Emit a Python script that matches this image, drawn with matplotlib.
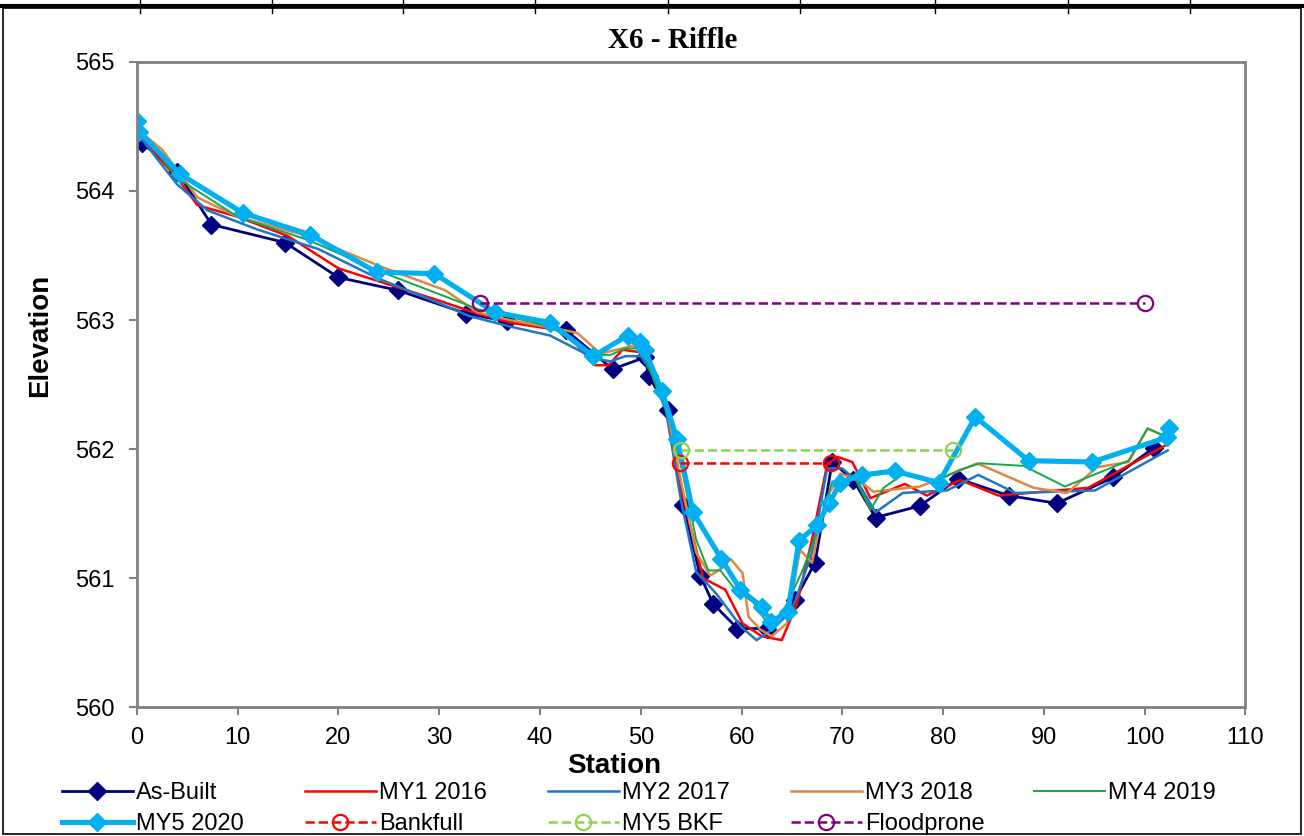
import matplotlib.pyplot as plt
from matplotlib.lines import Line2D

plt.rcParams['font.family'] = ['Liberation Sans', 'DejaVu Sans']

# Data (station, elevation)
asbuilt_x = [0.5, 4.0, 7.4, 14.7, 20.0, 25.9, 32.7, 36.7, 42.6, 47.2, 50.4, 50.8,
             52.7, 54.2, 55.9, 57.2, 59.6, 62.5, 65.3, 67.3, 69.0, 71.1, 73.3,
             77.7, 81.5, 86.5, 91.3, 96.9, 100.9]
asbuilt_y = [564.37, 564.15, 563.74, 563.60, 563.33, 563.23, 563.05, 562.99,
             562.92, 562.62, 562.71, 562.57, 562.30, 561.57, 561.02, 560.80,
             560.61, 560.61, 560.83, 561.12, 561.90, 561.76, 561.47, 561.56,
             561.77, 561.64, 561.58, 561.78, 562.01]

my1_x = [0.3, 4.0, 6.0, 10.0, 15.0, 20.0, 26.0, 30.0, 33.0, 37.0, 42.0, 43.5,
         45.5, 46.8, 48.2, 50.0, 51.0, 52.5, 54.0, 56.2, 58.4, 60.1, 62.0,
         64.0, 65.5, 67.0, 68.5, 69.5, 71.0, 72.8, 76.2, 78.4, 81.7, 85.5,
         94.4, 102.1]
my1_y = [564.42, 564.10, 563.89, 563.80, 563.65, 563.40, 563.25, 563.15,
         563.07, 562.98, 562.92, 562.82, 562.65, 562.65, 562.77, 562.75,
         562.60, 562.35, 561.70, 561.00, 560.91, 560.65, 560.55, 560.52,
         560.80, 561.30, 561.88, 561.94, 561.90, 561.62, 561.73, 561.64,
         561.76, 561.64, 561.70, 562.03]

my2_x = [0.5, 4.0, 7.0, 12.0, 18.0, 24.0, 30.0, 33.0, 37.0, 41.0, 45.5, 47.0,
         48.5, 50.0, 51.0, 52.5, 54.0, 55.5, 57.5, 60.0, 61.5, 63.0, 65.0,
         67.0, 68.5, 70.0, 71.5, 73.3, 76.0, 80.4, 83.5, 87.2, 95.1, 102.3]
my2_y = [564.40, 564.05, 563.85, 563.70, 563.55, 563.32, 563.13, 563.03,
         562.95, 562.88, 562.70, 562.68, 562.72, 562.72, 562.60, 562.30,
         561.60, 561.05, 560.88, 560.62, 560.52, 560.60, 560.75, 561.20,
         561.85, 561.85, 561.75, 561.51, 561.66, 561.68, 561.80, 561.66,
         561.68, 561.99]

my3_x = [0.5, 2.5, 6.0, 10.0, 17.0, 20.0, 24.0, 30.6, 33.8, 37.0, 42.5, 43.7,
         46.0, 49.2, 50.5, 52.5, 54.0, 55.5, 56.9, 58.1, 58.9, 60.1, 60.7,
         61.9, 63.0, 64.5, 65.8, 67.0, 68.3, 69.8, 71.6, 73.1, 77.7, 83.4,
         89.0, 92.3, 95.3, 98.4, 100.3, 102.3]
my3_y = [564.45, 564.32, 563.95, 563.80, 563.65, 563.55, 563.42, 563.23,
         563.06, 563.00, 562.92, 562.90, 562.74, 562.80, 562.75, 562.35,
         561.75, 561.20, 561.02, 561.08, 561.15, 561.04, 560.70, 560.60,
         560.55, 560.65, 561.22, 561.12, 561.60, 561.81, 561.76, 561.67,
         561.71, 561.89, 561.70, 561.66, 561.86, 561.90, 562.16, 562.09]

my4_x = [0.5, 4.0, 10.0, 17.0, 24.0, 30.0, 34.0, 41.0, 45.5, 47.0, 48.5, 50.0,
         51.0, 53.0, 54.2, 55.5, 56.7, 57.9, 59.2, 61.2, 63.0, 64.5, 66.0,
         67.5, 69.0, 69.8, 71.1, 72.8, 74.1, 76.1, 79.0, 81.7, 83.7, 88.0,
         92.1, 98.4, 100.3, 102.3]
my4_y = [564.45, 564.10, 563.80, 563.62, 563.38, 563.20, 563.08, 562.95,
         562.73, 562.73, 562.78, 562.78, 562.60, 562.20, 561.80, 561.30,
         561.06, 561.06, 560.93, 560.81, 560.60, 560.80, 561.05, 561.35,
         561.75, 561.74, 561.80, 561.53, 561.70, 561.81, 561.74, 561.84,
         561.89, 561.87, 561.71, 561.91, 562.16, 562.09]

my5_x = [0.0, 0.2, 4.3, 10.5, 17.2, 23.8, 29.5, 35.5, 41.0, 45.3, 48.7, 49.9,
         50.4, 52.1, 53.6, 55.2, 58.0, 59.9, 62.0, 62.9, 64.6, 65.7, 67.5,
         68.7, 69.8, 72.0, 75.2, 79.6, 83.2, 88.5, 94.8, 102.2, 102.4]
my5_y = [564.54, 564.46, 564.13, 563.83, 563.66, 563.37, 563.36, 563.06,
         562.98, 562.72, 562.88, 562.83, 562.77, 562.45, 562.08, 561.51,
         561.15, 560.91, 560.78, 560.66, 560.74, 561.29, 561.41, 561.58,
         561.74, 561.80, 561.83, 561.74, 562.25, 561.91, 561.90, 562.09,
         562.16]

bkf_x = [53.9, 68.9]
bkf_y = [561.89, 561.89]
my5bkf_x = [54.0, 81.0]
my5bkf_y = [561.99, 561.99]
flood_x = [34.0, 100.0]
flood_y = [563.13, 563.13]

# Plotting
fig = plt.figure(figsize=[13.04, 8.36], dpi=100)
ax = fig.add_axes([0.105, 0.154, 0.85, 0.772])

h_ab, = ax.plot(asbuilt_x, asbuilt_y, color='#000080', lw=2, marker='D',
                ms=9, label='As-Built')
h1, = ax.plot(my1_x, my1_y, color='#FF0000', lw=1.8, label='MY1 2016')
h2, = ax.plot(my2_x, my2_y, color='#1F77C4', lw=1.8, label='MY2 2017')
h3, = ax.plot(my3_x, my3_y, color='#DD8844', lw=1.8, label='MY3 2018')
h4, = ax.plot(my4_x, my4_y, color='#13A84A', lw=1.4, label='MY4 2019')
h5, = ax.plot(my5_x, my5_y, color='#00B0F0', lw=3.7, marker='D', ms=9,
              label='MY5 2020')
hb, = ax.plot(bkf_x, bkf_y, color='#FF0000', lw=1.8, ls='--', marker='o',
              ms=11, mfc='none', mew=1.6, label='Bankfull')
hm, = ax.plot(my5bkf_x, my5bkf_y, color='#92D050', lw=1.8, ls='--',
              marker='o', ms=11, mfc='none', mew=1.6, label='MY5 BKF')
hf, = ax.plot(flood_x, flood_y, color='#800080', lw=1.8, ls='--', marker='o',
              ms=11, mfc='none', mew=1.6, label='Floodprone')

ax.set_xlim(0, 110)
ax.set_ylim(560, 565)
ax.set_xticks(range(0, 111, 10))
ax.set_yticks(range(560, 566))
ax.tick_params(labelsize=17, length=6, width=1.5, color='#808080',
               direction='out')
ax.tick_params(axis='x', pad=8)
ax.tick_params(axis='y', pad=10)
for s in ax.spines.values():
    s.set_color('#808080')
    s.set_linewidth(2)

fig.text(614 / 1304, 1 - 766 / 836, 'Station', fontsize=20,
         fontweight='bold', ha='center', va='center')
fig.text(40 / 1304, 1 - 335 / 836, 'Elevation', fontsize=20,
         fontweight='bold', rotation=90, ha='center', va='center')
fig.text(673 / 1304, 1 - 40 / 836, 'X6 - Riffle', fontsize=21,
         fontweight='bold', family='Liberation Serif', ha='center',
         va='center')

# legend: one small legend per column so the column pitch matches
columns = [[h_ab, h5], [h1, hb], [h2, hm], [h3, hf], [h4]]
for i, col in enumerate(columns):
    x0 = (62 + 243 * i) / 1304
    fig.legend(handles=col, labels=[h.get_label() for h in col],
               loc='upper left', bbox_to_anchor=(x0, 1 - 782 / 836),
               frameon=False, fontsize=17, handlelength=3.0,
               handletextpad=0.15, labelspacing=0.38, borderpad=0,
               borderaxespad=0)

# outer frame
fig.add_artist(plt.Rectangle((0.002, 0.002), 0.996, 0.988, fill=False,
                             lw=1.2, color='black', transform=fig.transFigure))
fig.add_artist(Line2D([0, 1], [0.993, 0.993], lw=3, color='black',
                      transform=fig.transFigure))
for tx in [140, 272, 403, 535, 668, 800, 935, 1068, 1190]:
    fig.add_artist(Line2D([tx / 1304, tx / 1304], [0.985, 1.0], lw=1,
                          color='black', transform=fig.transFigure))

plt.savefig('out.png', dpi=100)
